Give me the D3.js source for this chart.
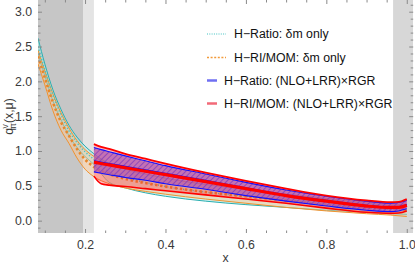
<!DOCTYPE html>
<html><head><meta charset="utf-8">
<script src="https://cdn.jsdelivr.net/npm/d3@7"></script>
<style>
html,body{margin:0;padding:0;background:#fff;}
svg{display:block;font-family:"Liberation Sans",Arial,sans-serif;}
</style></head>
<body><svg id="c" width="415" height="266"></svg>
<script>
// ---- data ----
const dmX            = [0.083,0.10,0.12,0.14,0.16,0.18,0.20,0.22,0.26,0.30,0.35,0.40,0.50,0.60,0.70,0.80,0.90,0.96,1.00];
const ratioDmUpper   = [2.62,2.25,1.88,1.60,1.37,1.20,1.07,0.97,0.82,0.74,0.67,0.61,0.52,0.45,0.38,0.31,0.25,0.22,0.21];
const ratioDmCentral = [2.50,2.16,1.80,1.52,1.29,1.12,0.99,0.89,0.70,0.62,0.55,0.49,0.41,0.35,0.29,0.23,0.18,0.16,0.15];
const ratioDmLower   = [2.40,2.08,1.72,1.45,1.22,1.05,0.92,0.82,0.55,0.47,0.40,0.35,0.28,0.23,0.19,0.15,0.12,0.10,0.09];
const rimomDmUpper   = [2.45,2.15,1.82,1.55,1.33,1.15,1.02,0.93,0.82,0.74,0.67,0.61,0.52,0.45,0.38,0.32,0.27,0.24,0.23];
const rimomDmCentral = [2.36,2.05,1.70,1.42,1.22,1.03,0.88,0.78,0.67,0.60,0.54,0.49,0.41,0.35,0.29,0.23,0.18,0.16,0.15];
const rimomDmLower   = [2.25,1.95,1.58,1.30,1.11,0.90,0.74,0.64,0.53,0.47,0.42,0.38,0.31,0.25,0.19,0.14,0.10,0.08,0.06];

const nloX            = [0.222,0.24,0.26,0.30,0.35,0.40,0.50,0.60,0.70,0.80,0.90,0.96,0.98,1.00];
const ratioNloUpper   = [1.05,1.02,0.99,0.93,0.86,0.79,0.67,0.55,0.44,0.35,0.28,0.25,0.26,0.29];
const ratioNloCentral = [0.86,0.84,0.82,0.78,0.73,0.68,0.58,0.47,0.37,0.29,0.22,0.195,0.20,0.23];
const ratioNloLower   = [0.70,0.68,0.66,0.62,0.58,0.53,0.45,0.36,0.28,0.21,0.15,0.13,0.14,0.17];
const rimomNloUpper   = [1.10,1.06,1.03,0.96,0.89,0.82,0.69,0.57,0.46,0.36,0.29,0.265,0.27,0.31];
const rimomNloCentral = [0.84,0.82,0.80,0.76,0.71,0.66,0.56,0.46,0.36,0.28,0.21,0.19,0.19,0.22];
const rimomNloLower   = [0.64,0.53,0.51,0.49,0.46,0.43,0.37,0.31,0.25,0.18,0.12,0.105,0.11,0.14];

const shadeDark  = [0.083,0.195];
const shadeLight = [0.195,0.222];
const shadeRight = [0.966,1.016];

const xTickValues = [0.2,0.4,0.6,0.8,1.0];
const yTickValues = [0.0,0.5,1.0,1.5,2.0,2.5,3.0];
const legendLabels = ["H\u2212Ratio: \u03B4m only","H\u2212RI/MOM: \u03B4m only","H\u2212Ratio: (NLO+LRR)\u00D7RGR","H\u2212RI/MOM: (NLO+LRR)\u00D7RGR"];

// ---- drawing ----
const svg = d3.select("#c");
const L=38, R=413.2, T=0, B=233;
const FS="12.3px";
const x = d3.scaleLinear().domain([0.083,1.016]).range([L,R]);
const y = d3.scaleLinear().domain([-0.177,3.168]).range([B,T]);

const defs = svg.append("defs");
defs.append("clipPath").attr("id","clip").append("rect").attr("x",L).attr("y",T).attr("width",R-L).attr("height",B-T);
const pat = defs.append("pattern").attr("id","hatch").attr("patternUnits","userSpaceOnUse")
  .attr("width",4).attr("height",4).attr("patternTransform","rotate(45)");
pat.append("rect").attr("width",4).attr("height",4).attr("fill","rgba(140,120,235,0.75)");
pat.append("line").attr("x1",0).attr("y1",0).attr("x2",0).attr("y2",4).attr("stroke","#4a4aff").attr("stroke-width",1.6);

const g = svg.append("g").attr("clip-path","url(#clip)");
// shaded regions
[[shadeDark,"#c6c6c6"],[shadeLight,"#e4e4e4"],[shadeRight,"#d7d7d7"]].forEach(([r,c])=>{
  g.append("rect").attr("x",x(r[0])).attr("width",x(r[1])-x(r[0])).attr("y",T).attr("height",B-T).attr("fill",c);
});

const curve = d3.curveMonotoneX;
function band(xs,lo,hi){
  return d3.area().x((d,i)=>x(xs[i])).y0((d,i)=>y(lo[i])).y1((d,i)=>y(hi[i])).curve(curve)(xs);
}
function line(xs,vs){
  return d3.line().x((d,i)=>x(xs[i])).y((d,i)=>y(vs[i])).curve(curve)(xs);
}

// delta m only bands
g.append("path").attr("d",band(dmX,ratioDmLower,ratioDmUpper)).attr("fill","rgba(170,230,228,0.55)");
g.append("path").attr("d",line(dmX,ratioDmUpper)).attr("fill","none").attr("stroke","#2aaeb0").attr("stroke-width",1);
g.append("path").attr("d",line(dmX,ratioDmLower)).attr("fill","none").attr("stroke","#2aaeb0").attr("stroke-width",1);
g.append("path").attr("d",band(dmX,rimomDmLower,rimomDmUpper)).attr("fill","rgba(250,200,150,0.5)");
g.append("path").attr("d",line(dmX,rimomDmUpper)).attr("fill","none").attr("stroke","#f0922e").attr("stroke-width",1);
g.append("path").attr("d",line(dmX,rimomDmLower)).attr("fill","none").attr("stroke","#f0922e").attr("stroke-width",1);
g.append("path").attr("d",line(dmX,ratioDmCentral)).attr("fill","none").attr("stroke","#49c2c2").attr("stroke-width",1.4).attr("stroke-dasharray","1.2,2");
g.append("path").attr("d",line(dmX,rimomDmCentral)).attr("fill","none").attr("stroke","#e8862a").attr("stroke-width",2.6).attr("stroke-dasharray","2.4,2.6");

// NLO bands
g.append("path").attr("d",band(nloX,ratioNloLower,ratioNloUpper)).attr("fill","url(#hatch)");
g.append("path").attr("d",band(nloX,rimomNloLower,rimomNloUpper)).attr("fill","rgba(255,30,50,0.32)");
g.append("path").attr("d",line(nloX,ratioNloUpper)).attr("fill","none").attr("stroke","#1010ff").attr("stroke-width",1.1);
g.append("path").attr("d",line(nloX,ratioNloLower)).attr("fill","none").attr("stroke","#1010ff").attr("stroke-width",1.1);
g.append("path").attr("d",line(nloX,ratioNloCentral)).attr("fill","none").attr("stroke","#1010ff").attr("stroke-width",1.2);
g.append("path").attr("d",line(nloX,rimomNloUpper)).attr("fill","none").attr("stroke","#ff0000").attr("stroke-width",1.8);
g.append("path").attr("d",line(nloX,rimomNloLower)).attr("fill","none").attr("stroke","#ff0000").attr("stroke-width",1.6);
g.append("path").attr("d",line(nloX,rimomNloCentral)).attr("fill","none").attr("stroke","#ff0000").attr("stroke-width",3.2);

// axes: ticks inside, no frame line
const tickCol="#8a8a8a";
const xMinor = d3.range(0.1,1.0001,0.05).filter(v=>!xTickValues.some(t=>Math.abs(t-v)<1e-6));
const yMinor = d3.range(-0.1,3.1501,0.1).filter(v=>!yTickValues.some(t=>Math.abs(t-v)<1e-6));
const axB = d3.axisBottom(x).tickValues(xTickValues).tickFormat(d3.format(".1f")).tickSizeInner(-4).tickSizeOuter(0).tickPadding(7);
const axL = d3.axisLeft(y).tickValues(yTickValues).tickFormat(d3.format(".1f")).tickSizeInner(-4).tickSizeOuter(0).tickPadding(6);
function styleAxis(sel){
  sel.select(".domain").remove();
  sel.selectAll(".tick line").attr("stroke",tickCol);
  sel.selectAll(".tick text").attr("fill","#3a3a3a").style("font-size",FS).style("font-family","'Liberation Sans',Arial,sans-serif");
}
svg.append("g").attr("transform",`translate(0,${B})`).call(axB).call(styleAxis);
svg.append("g").attr("transform",`translate(${L},0)`).call(axL).call(styleAxis);
svg.append("g").attr("transform",`translate(0,${T})`).call(d3.axisTop(x).tickValues(xTickValues).tickSizeInner(-4).tickSizeOuter(0).tickFormat("")).call(styleAxis);
svg.append("g").attr("transform",`translate(${R},0)`).call(d3.axisRight(y).tickValues(yTickValues).tickSizeInner(-4).tickSizeOuter(0).tickFormat("")).call(styleAxis);
svg.append("g").attr("transform",`translate(0,${B})`).call(d3.axisBottom(x).tickValues(xMinor).tickSizeInner(-2.5).tickSizeOuter(0).tickFormat("")).call(styleAxis);
svg.append("g").attr("transform",`translate(0,${T})`).call(d3.axisTop(x).tickValues(xMinor).tickSizeInner(-2.5).tickSizeOuter(0).tickFormat("")).call(styleAxis);
svg.append("g").attr("transform",`translate(${L},0)`).call(d3.axisLeft(y).tickValues(yMinor).tickSizeInner(-2.5).tickSizeOuter(0).tickFormat("")).call(styleAxis);
svg.append("g").attr("transform",`translate(${R},0)`).call(d3.axisRight(y).tickValues(yMinor).tickSizeInner(-2.5).tickSizeOuter(0).tickFormat("")).call(styleAxis);

// axis labels
svg.append("text").attr("x",(L+R)/2).attr("y",262).attr("text-anchor","middle").attr("fill","#3a3a3a").style("font-size",FS).text("x");
const yl = svg.append("text").attr("transform",`translate(13,${(T+B)/2}) rotate(-90)`).attr("text-anchor","middle").attr("fill","#3a3a3a").style("font-size",FS);
yl.append("tspan").text("q");
yl.append("tspan").attr("dy",-5).attr("dx",-0.5).style("font-size","8.5px").text("v");
yl.append("tspan").attr("dy",8).attr("dx",-4.8).style("font-size","8.5px").text("\u03C0");
yl.append("tspan").attr("dy",-3).text("(x,\u03BC)");

// legend
const lg = svg.append("g");
const legY = [34,57.5,80.5,103.5];
const legStyle = [
  {x1:207,x2:226,tx:234,col:"#7fd6d6",w:1.4,dash:"1,1.3"},
  {x1:207,x2:226,tx:234,col:"#f29a3a",w:1.4,dash:"2,1.6"},
  {x1:207,x2:217,tx:224,col:"#6f6ff2",w:2.5,dash:null},
  {x1:207,x2:217,tx:224,col:"#f26a78",w:2.5,dash:null}
];
legendLabels.forEach((t,i)=>{
  const s=legStyle[i];
  lg.append("line").attr("x1",s.x1).attr("x2",s.x2).attr("y1",legY[i]).attr("y2",legY[i]).attr("stroke",s.col).attr("stroke-width",s.w).attr("stroke-dasharray",s.dash);
  lg.append("text").attr("x",s.tx).attr("y",legY[i]+4.3).attr("fill","#111").style("font-size",FS).text(t);
});
</script></body></html>
